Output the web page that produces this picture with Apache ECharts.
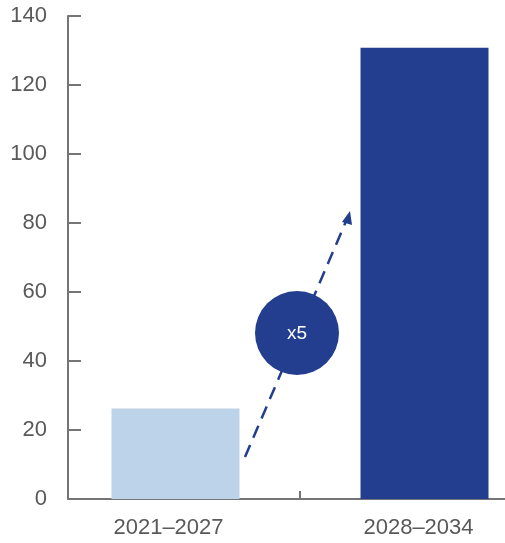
<!DOCTYPE html>
<html><head><meta charset="utf-8">
<script src="https://cdn.jsdelivr.net/npm/echarts@6/dist/echarts.min.js"></script>
<style>html,body{margin:0;padding:0;background:#fff}#c{width:505px;height:543px}</style>
</head><body><div id="c"></div>
<script>
const categories = ['2021–2027', '2028–2034'];
const firstPeriod = [26.2, '-'];
const secondPeriod = ['-', 130.8];
const yTicks = [0, 20, 40, 60, 80, 100, 120, 140];
const multiplierLabel = 'x5';

const chart = echarts.init(document.getElementById('c'));
const axisColor = '#757575';
const labelColor = '#595959';
const font = 'Liberation Sans';
chart.setOption({
  animation: false,
  grid: { left: 68, width: 464, top: 16, bottom: 44, containLabel: false, outerBoundsMode: 'none' },
  xAxis: {
    type: 'category', data: categories,
    axisLine: { lineStyle: { color: axisColor, width: 2 } },
    axisTick: { show: true, interval: 0, inside: true, length: 8, lineStyle: { color: axisColor, width: 2 } },
    axisLabel: {
      color: labelColor, fontSize: 22, fontFamily: font, margin: 18,
      formatter: (v, i) => (i === 0 ? '{a|' : '{b|') + v + '}',
      rich: {
        a: { color: labelColor, fontSize: 22, fontFamily: font, padding: [0, 31, 0, 0] },
        b: { color: labelColor, fontSize: 22, fontFamily: font, padding: [0, 0, 0, 5] }
      }
    }
  },
  yAxis: {
    type: 'value', min: yTicks[0], max: yTicks[yTicks.length - 1], interval: 20,
    splitLine: { show: false },
    axisLine: { show: true, lineStyle: { color: axisColor, width: 2 } },
    axisTick: { show: true, inside: true, length: 13, lineStyle: { color: axisColor, width: 2 } },
    axisLabel: { color: labelColor, fontSize: 22, fontFamily: font, margin: 21 }
  },
  series: [
    { type: 'bar', data: firstPeriod, barWidth: 128, barGap: '-86.7%', itemStyle: { color: '#bdd3ea' } },
    { type: 'bar', data: secondPeriod, barWidth: 128, itemStyle: { color: '#233e8f' } }
  ],
  graphic: [
    { type: 'line', z: 10, shape: { x1: 245, y1: 457, x2: 347, y2: 219 },
      style: { stroke: '#233e8f', lineWidth: 2.5, lineDash: [13, 8] } },
    { type: 'polygon', z: 10, shape: { points: [[350, 211], [342, 222], [352, 225]] },
      style: { fill: '#233e8f' } },
    { type: 'circle', z: 11, shape: { cx: 297, cy: 333, r: 42 }, style: { fill: '#233e8f' } },
    { type: 'text', z: 12, x: 297, y: 334,
      style: { text: multiplierLabel, fill: '#ffffff', fontSize: 19, fontFamily: font, align: 'center', verticalAlign: 'middle' } }
  ]
});
</script></body></html>
